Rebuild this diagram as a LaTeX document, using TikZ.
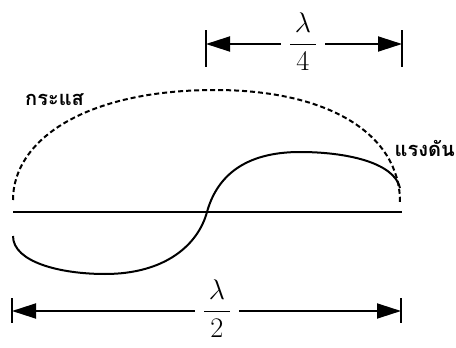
\documentclass[tikz,border=0pt]{standalone}
\usepackage{amsmath}
\usepackage{graphicx}
\usepackage{fontspec}
\newfontfamily\thaifont[Script=Thai]{Loma}
\usetikzlibrary{arrows.meta,calc,positioning}

\begin{document}
\begin{tikzpicture}[
  x=1pt, y=-1pt,
  frac/.style={inner xsep=8pt, inner ysep=0pt, font=\fontsize{24.88}{30}\selectfont},
  lbl/.style={inner sep=0pt, font=\thaifont\bfseries\fontsize{20}{24}\selectfont},
  dim/.style={-{Triangle[length=24pt,width=15pt]}, line width=1.8pt},
  tick/.style={line width=2.6pt},
  wave/.style={line width=2pt},
]
\useasboundingbox (0,0) rectangle (456,348);
% ---- dimension macro: #1 id #2 x-left #3 x-right #4 y #5 up #6 down #7 label x #8 denominator ----
\newcommand{\dimbar}[8]{%
  \coordinate (#1-l) at (#2,#4);\coordinate (#1-r) at (#3,#4);%
  \draw[tick] (#2,#4-#5) -- (#2,#4+#6);\draw[tick] (#3,#4-#5) -- (#3,#4+#6);%
  \node[frac] (#1) at (#7,#4-2.5) {\scalebox{1.14}{$\dfrac{\,\lambda\,}{#8}$}};%
}

% ---- dimensions ----
\dimbar{q}{206}{402}{44}{14}{23}{303}{4}
\dimbar{h}{12}{401}{311}{13}{12}{217}{2}

% ---- axis ----
\coordinate (ax-l) at (13,212);
\coordinate (ax-r) at (402,212);
\draw[line width=1.8pt] (ax-l) -- (ax-r);

% ---- current (dashed) ----
\draw[wave, dash pattern=on 5pt off 3pt]
  (13,200) .. controls (13,140) and (85,90) .. (215,90)
           .. controls (330,90) and (400,135) .. (400,202);

% ---- voltage (solid) ----
\draw[wave]
  (13,236) .. controls (13,262) and (60,274) .. (105,274)
           .. controls (165,274) and (198,245) .. (207,212)
           .. controls (217,176) and (245,152) .. (300,152)
           .. controls (345,152) and (394,162) .. (400,188);

% ---- labels ----
\node[lbl, anchor=base west] (cur) at (25,105) {กระแส};
\node[lbl, anchor=base east] (volt) at (455,156) {แรงดัน};

% ---- edges ----
\draw[dim] (q.west |- q-l) -- (q-l);
\draw[dim] (q.east |- q-r) -- (q-r);
\draw[dim] (h.west |- h-l) -- (h-l);
\draw[dim] (h.east |- h-r) -- (h-r);
\end{tikzpicture}
\end{document}
